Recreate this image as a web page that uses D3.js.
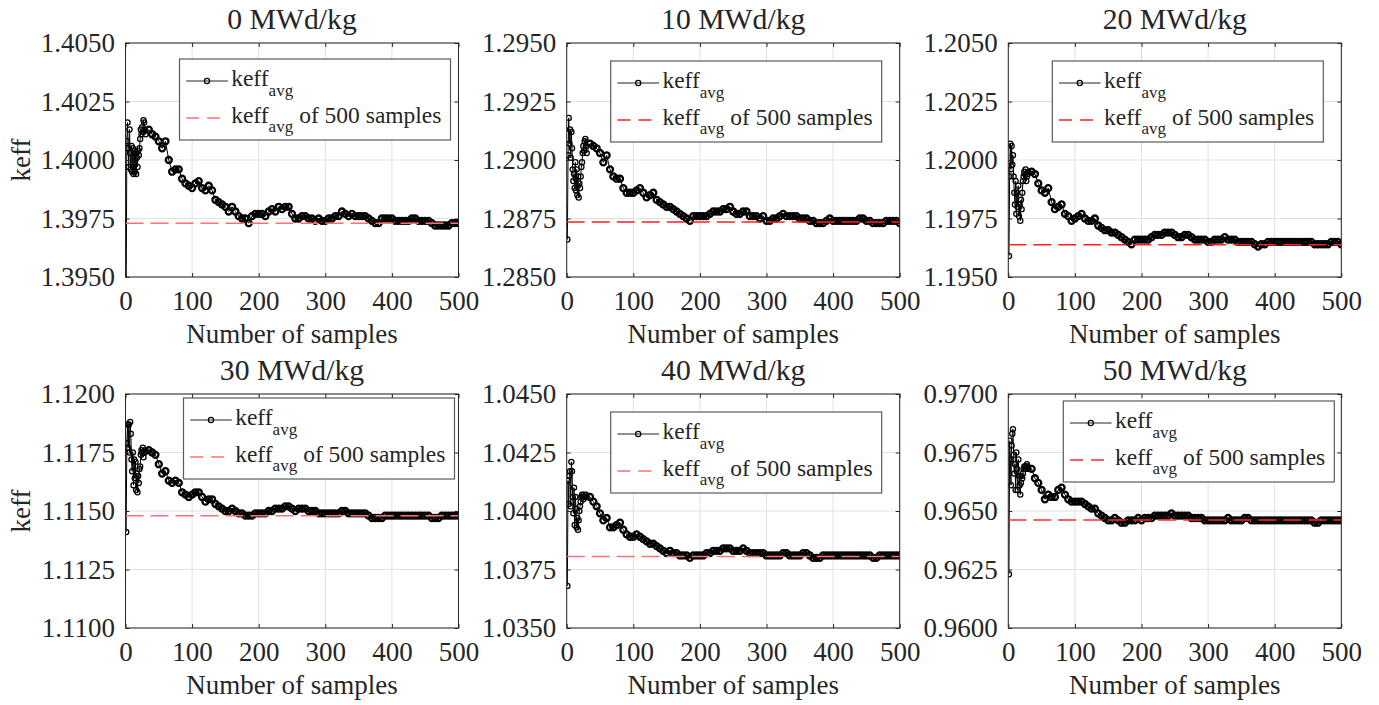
<!DOCTYPE html>
<html>
<head>
<meta charset="utf-8">
<script src="https://cdn.jsdelivr.net/npm/d3@7"></script>
<style>
  body { margin: 0; background: #fff; }
  text { font-family: "Liberation Serif", "Times New Roman", serif; fill: #262626; }
</style>
</head>
<body>
<div id="svg-container"></div>
<script>
// sample numbers where values were read (every sample up to 30, then every 5th)
var samples = [1,2,3,4,5,6,7,8,9,10,
  11,12,13,14,15,16,17,18,19,20,
  21,22,23,24,25,26,27,28,29,30,
  35,40,45,50,55,60,65,70,75,80,
  85,90,95,100,105,110,115,120,125,130,
  135,140,145,150,155,160,165,170,175,180,
  185,190,195,200,205,210,215,220,225,230,
  235,240,245,250,255,260,265,270,275,280,
  285,290,295,300,305,310,315,320,325,330,
  335,340,345,350,355,360,365,370,375,380,
  385,390,395,400,405,410,415,420,425,430,
  435,440,445,450,455,460,465,470,475,480,
  485,490,495,500];

var titles = ["0 MWd/kg", "10 MWd/kg", "20 MWd/kg", "30 MWd/kg", "40 MWd/kg", "50 MWd/kg"];

var xTicks = [0, 100, 200, 300, 400, 500];

var yTicks = [
  [1.3950, 1.3975, 1.4000, 1.4025, 1.4050],
  [1.2850, 1.2875, 1.2900, 1.2925, 1.2950],
  [1.1950, 1.1975, 1.2000, 1.2025, 1.2050],
  [1.1100, 1.1125, 1.1150, 1.1175, 1.1200],
  [1.0350, 1.0375, 1.0400, 1.0425, 1.0450],
  [0.9600, 0.9625, 0.9650, 0.9675, 0.9700]
];

// keff_avg of all 500 samples
var keffAvg500 = [1.3973, 1.28735, 1.19638, 1.1148, 1.03806, 0.96462];

var keff0 = [1.3938, 1.4008, 1.4016, 1.4005, 1.3997, 1.4013, 1.4003, 1.3996, 1.4006, 1.3995,
  1.4005, 1.3994, 1.4004, 1.3995, 1.4003, 1.3994, 1.4001, 1.3997, 1.4004, 1.4002,
  1.4005, 1.4009, 1.4013, 1.4011, 1.4014, 1.4012, 1.4017, 1.4016, 1.4013, 1.4011,
  1.4013, 1.4011, 1.4010, 1.4008, 1.4005, 1.4008, 1.4000, 1.3995, 1.3996, 1.3996,
  1.3992, 1.3990, 1.3989, 1.3988, 1.3990, 1.3991, 1.3988, 1.3987, 1.3989, 1.3987,
  1.3983, 1.3982, 1.3981, 1.3980, 1.3978, 1.3980, 1.3978, 1.3976, 1.3975, 1.3975,
  1.3973, 1.3976, 1.3977, 1.3977, 1.3977, 1.3976, 1.3978, 1.3979, 1.3978, 1.3980,
  1.3979, 1.3980, 1.3980, 1.3977, 1.3975, 1.3975, 1.3976, 1.3976, 1.3975, 1.3975,
  1.3974, 1.3975, 1.3974, 1.3974, 1.3975, 1.3975, 1.3976, 1.3976, 1.3978, 1.3977,
  1.3976, 1.3977, 1.3976, 1.3976, 1.3976, 1.3976, 1.3975, 1.3974, 1.3973, 1.3973,
  1.3975, 1.3975, 1.3975, 1.3975, 1.3974, 1.3974, 1.3974, 1.3974, 1.3974, 1.3975,
  1.3975, 1.3974, 1.3974, 1.3974, 1.3974, 1.3973, 1.3972, 1.3972, 1.3972, 1.3972,
  1.3972, 1.3973, 1.3973, 1.3973];

var keff10 = [1.2866, 1.2902, 1.2918, 1.2907, 1.2913, 1.2901, 1.2912, 1.2905, 1.2896, 1.2891,
  1.2894, 1.2888, 1.2899, 1.2887, 1.2896, 1.2885, 1.2893, 1.2884, 1.2890, 1.2888,
  1.2893, 1.2897, 1.2899, 1.2903, 1.2906, 1.2904, 1.2908, 1.2909, 1.2906, 1.2903,
  1.2907, 1.2906, 1.2905, 1.2903, 1.2899, 1.2902, 1.2896, 1.2893, 1.2892, 1.2892,
  1.2888, 1.2886, 1.2886, 1.2886, 1.2887, 1.2888, 1.2886, 1.2884, 1.2885, 1.2886,
  1.2883, 1.2882, 1.2881, 1.2880, 1.2880, 1.2879, 1.2878, 1.2877, 1.2876, 1.2875,
  1.2874, 1.2876, 1.2876, 1.2876, 1.2876, 1.2876, 1.2877, 1.2878, 1.2878, 1.2878,
  1.2879, 1.2879, 1.2880, 1.2878, 1.2877, 1.2877, 1.2878, 1.2878, 1.2876, 1.2876,
  1.2876, 1.2875, 1.2876, 1.2874, 1.2874, 1.2875, 1.2875, 1.2876, 1.2877, 1.2876,
  1.2876, 1.2876, 1.2876, 1.2875, 1.2875, 1.2875, 1.2874, 1.2874, 1.2873, 1.2873,
  1.2873, 1.2874, 1.2875, 1.2874, 1.2874, 1.2874, 1.2874, 1.2874, 1.2874, 1.2874,
  1.2874, 1.2875, 1.2875, 1.2874, 1.2874, 1.2873, 1.2873, 1.2873, 1.2873, 1.2874,
  1.2874, 1.2874, 1.2874, 1.2873];

var keff20 = [1.1959, 1.1993, 1.2007, 1.1996, 1.2006, 1.1998, 1.2002, 1.1993, 1.1986, 1.1981,
  1.1991, 1.1977, 1.1986, 1.1980, 1.1989, 1.1976, 1.1981, 1.1974, 1.1983, 1.1979,
  1.1986, 1.1991, 1.1993, 1.1995, 1.1994, 1.1996, 1.1991, 1.1993, 1.1994, 1.1995,
  1.1995, 1.1994, 1.1990, 1.1987, 1.1986, 1.1988, 1.1982, 1.1979, 1.1980, 1.1981,
  1.1977, 1.1976, 1.1974, 1.1975, 1.1976, 1.1977, 1.1975, 1.1974, 1.1974, 1.1975,
  1.1972, 1.1971, 1.1970, 1.1970, 1.1969, 1.1969, 1.1968, 1.1967, 1.1966, 1.1965,
  1.1964, 1.1966, 1.1966, 1.1966, 1.1966, 1.1966, 1.1967, 1.1968, 1.1968, 1.1968,
  1.1969, 1.1969, 1.1969, 1.1968, 1.1967, 1.1967, 1.1968, 1.1968, 1.1967, 1.1966,
  1.1966, 1.1966, 1.1966, 1.1965, 1.1965, 1.1966, 1.1966, 1.1966, 1.1967, 1.1966,
  1.1966, 1.1966, 1.1965, 1.1965, 1.1965, 1.1965, 1.1965, 1.1964, 1.1963, 1.1964,
  1.1964, 1.1965, 1.1965, 1.1965, 1.1965, 1.1965, 1.1965, 1.1965, 1.1965, 1.1965,
  1.1965, 1.1965, 1.1965, 1.1965, 1.1965, 1.1964, 1.1964, 1.1964, 1.1964, 1.1964,
  1.1965, 1.1965, 1.1965, 1.1964];

var keff30 = [1.1141, 1.1179, 1.1187, 1.1177, 1.1187, 1.1175, 1.1188, 1.1183, 1.1172, 1.1167,
  1.1175, 1.1161, 1.1172, 1.1164, 1.1171, 1.1159, 1.1166, 1.1158, 1.1165, 1.1162,
  1.1168, 1.1169, 1.1174, 1.1176, 1.1175, 1.1177, 1.1173, 1.1175, 1.1175, 1.1176,
  1.1176, 1.1175, 1.1174, 1.1170, 1.1166, 1.1167, 1.1163, 1.1162, 1.1163, 1.1162,
  1.1158, 1.1157, 1.1156, 1.1157, 1.1158, 1.1158, 1.1156, 1.1154, 1.1155, 1.1155,
  1.1153, 1.1152, 1.1151, 1.1150, 1.1150, 1.1151, 1.1150, 1.1149, 1.1149, 1.1148,
  1.1148, 1.1148, 1.1149, 1.1149, 1.1149, 1.1149, 1.1150, 1.1150, 1.1151, 1.1151,
  1.1151, 1.1152, 1.1152, 1.1151, 1.1150, 1.1151, 1.1151, 1.1151, 1.1150, 1.1150,
  1.1150, 1.1149, 1.1149, 1.1149, 1.1149, 1.1149, 1.1149, 1.1149, 1.1150, 1.1150,
  1.1149, 1.1149, 1.1149, 1.1149, 1.1149, 1.1149, 1.1148, 1.1147, 1.1147, 1.1147,
  1.1147, 1.1148, 1.1148, 1.1148, 1.1148, 1.1148, 1.1148, 1.1148, 1.1148, 1.1148,
  1.1148, 1.1148, 1.1148, 1.1148, 1.1148, 1.1147, 1.1147, 1.1147, 1.1148, 1.1148,
  1.1148, 1.1148, 1.1148, 1.1148];

var keff40 = [1.0368, 1.0413, 1.0403, 1.0415, 1.0417, 1.0402, 1.0421, 1.0417, 1.0406, 1.0399,
  1.0410, 1.0394, 1.0406, 1.0401, 1.0393, 1.0397, 1.0392, 1.0396, 1.0400, 1.0402,
  1.0404, 1.0406, 1.0407, 1.0406, 1.0405, 1.0407, 1.0406, 1.0406, 1.0407, 1.0406,
  1.0406, 1.0404, 1.0402, 1.0399, 1.0396, 1.0397, 1.0393, 1.0393, 1.0394, 1.0395,
  1.0392, 1.0390, 1.0389, 1.0389, 1.0390, 1.0389, 1.0388, 1.0387, 1.0386, 1.0386,
  1.0385, 1.0384, 1.0383, 1.0382, 1.0383, 1.0382, 1.0382, 1.0381, 1.0381, 1.0381,
  1.0380, 1.0381, 1.0381, 1.0381, 1.0381, 1.0382, 1.0382, 1.0383, 1.0383, 1.0383,
  1.0384, 1.0384, 1.0384, 1.0383, 1.0383, 1.0383, 1.0384, 1.0383, 1.0382, 1.0382,
  1.0382, 1.0382, 1.0382, 1.0381, 1.0381, 1.0381, 1.0381, 1.0381, 1.0382, 1.0382,
  1.0381, 1.0381, 1.0381, 1.0381, 1.0382, 1.0382, 1.0381, 1.0380, 1.0380, 1.0380,
  1.0381, 1.0381, 1.0381, 1.0381, 1.0381, 1.0381, 1.0381, 1.0381, 1.0381, 1.0381,
  1.0381, 1.0381, 1.0381, 1.0381, 1.0381, 1.0380, 1.0380, 1.0381, 1.0381, 1.0381,
  1.0381, 1.0381, 1.0381, 1.0381];

var keff50 = [0.9623, 0.9680, 0.9672, 0.9661, 0.9678, 0.9683, 0.9685, 0.9674, 0.9666, 0.9670,
  0.9659, 0.9675, 0.9668, 0.9659, 0.9672, 0.9665, 0.9661, 0.9657, 0.9662, 0.9665,
  0.9664, 0.9666, 0.9668, 0.9669, 0.9668, 0.9669, 0.9669, 0.9670, 0.9669, 0.9668,
  0.9668, 0.9664, 0.9662, 0.9659, 0.9655, 0.9657, 0.9656, 0.9656, 0.9659, 0.9660,
  0.9657, 0.9655, 0.9654, 0.9654, 0.9654, 0.9654, 0.9653, 0.9652, 0.9651, 0.9651,
  0.9649, 0.9648, 0.9647, 0.9646, 0.9646, 0.9647, 0.9646, 0.9645, 0.9645, 0.9646,
  0.9646, 0.9646, 0.9647, 0.9646, 0.9647, 0.9647, 0.9647, 0.9648, 0.9648, 0.9648,
  0.9648, 0.9648, 0.9649, 0.9648, 0.9648, 0.9648, 0.9648, 0.9648, 0.9647, 0.9647,
  0.9647, 0.9647, 0.9646, 0.9646, 0.9646, 0.9646, 0.9646, 0.9646, 0.9646, 0.9647,
  0.9646, 0.9646, 0.9646, 0.9646, 0.9647, 0.9647, 0.9646, 0.9646, 0.9646, 0.9646,
  0.9646, 0.9646, 0.9646, 0.9646, 0.9646, 0.9646, 0.9646, 0.9646, 0.9646, 0.9646,
  0.9646, 0.9646, 0.9646, 0.9646, 0.9646, 0.9645, 0.9645, 0.9646, 0.9646, 0.9646,
  0.9646, 0.9646, 0.9646, 0.9646];

var series = [keff0, keff10, keff20, keff30, keff40, keff50];

// layout of the 6 axes (pixels) and where each legend sits inside its axes
var axW = 333, axH = 234;
var axLeft = [125.5, 566.7, 1008.3];
var axTop = [43, 394];
var legendOffset = [[54, 16], [44, 18], [44, 18], [58, 4], [44, 18], [55, 7]];
var avgColor = ["#ff7070", "#ff2020", "#ff2020", "#ff7070", "#ff7070", "#ff2a2a"];

var width = 1379;
var height = 705;

var svg = d3.select("#svg-container").append("svg")
    .attr("width", width)
    .attr("height", height);

svg.append("rect").attr("width", width).attr("height", height).attr("fill", "#fff");

var fmt = d3.format(".4f");

function drawPanel(p) {
    var x0 = axLeft[p % 3];
    var y0 = axTop[Math.floor(p / 3)];

    var x = d3.scaleLinear().domain([0, 500]).range([x0, x0 + axW]);
    var ticksY = yTicks[p];
    var y = d3.scaleLinear().domain([ticksY[0], ticksY[ticksY.length - 1]]).range([y0 + axH, y0]);

    var g = svg.append("g");

    // grid
    g.selectAll("line.gx").data(xTicks).enter().append("line")
        .attr("x1", function(d) { return x(d); })
        .attr("x2", function(d) { return x(d); })
        .attr("y1", y0).attr("y2", y0 + axH)
        .attr("stroke", "#e1e1e1").attr("stroke-width", 1);
    g.selectAll("line.gy").data(ticksY).enter().append("line")
        .attr("x1", x0).attr("x2", x0 + axW)
        .attr("y1", function(d) { return y(d); })
        .attr("y2", function(d) { return y(d); })
        .attr("stroke", "#e1e1e1").attr("stroke-width", 1);

    var clipId = "clip" + p;
    svg.append("clipPath").attr("id", clipId).append("rect")
        .attr("x", x0).attr("y", y0).attr("width", axW).attr("height", axH);

    var pts = samples.map(function(s, i) { return [s, series[p][i]]; });

    var line = d3.line()
        .x(function(d) { return x(d[0]); })
        .y(function(d) { return y(d[1]); });

    var plot = g.append("g").attr("clip-path", "url(#" + clipId + ")");

    plot.append("path")
        .datum(pts)
        .attr("d", line)
        .attr("fill", "none")
        .attr("stroke", "#000")
        .attr("stroke-width", 1);

    // after sample 30 each marker stands for 5 of the original ones,
    // so these are drawn heavier to give the same dense band
    plot.selectAll("circle")
        .data(pts)
        .enter()
        .append("circle")
        .attr("cx", function(d) { return x(d[0]); })
        .attr("cy", function(d) { return y(d[1]); })
        .attr("r", function(d) { return d[0] > 30 ? 3 : 2.6; })
        .attr("fill", "none")
        .attr("stroke", "#000")
        .attr("stroke-width", function(d) { return d[0] > 30 ? 2.3 : 1.25; });

    // average of 500 samples
    plot.append("line")
        .attr("x1", x(0)).attr("x2", x(500))
        .attr("y1", y(keffAvg500[p])).attr("y2", y(keffAvg500[p]))
        .attr("stroke", avgColor[p])
        .attr("stroke-width", 1.5)
        .attr("stroke-dasharray", "18,7");

    // axes, ticks pointing inward on all four sides
    var xb = g.append("g").attr("transform", "translate(0," + (y0 + axH) + ")")
        .call(d3.axisBottom(x).tickValues(xTicks).tickSizeInner(-4).tickSizeOuter(0).tickPadding(14));
    var xt = g.append("g").attr("transform", "translate(0," + y0 + ")")
        .call(d3.axisTop(x).tickValues(xTicks).tickSizeInner(-4).tickSizeOuter(0).tickFormat(""));
    var yl = g.append("g").attr("transform", "translate(" + x0 + ",0)")
        .call(d3.axisLeft(y).tickValues(ticksY).tickSizeInner(-4).tickSizeOuter(0).tickPadding(10.5).tickFormat(fmt));
    var yr = g.append("g").attr("transform", "translate(" + (x0 + axW) + ",0)")
        .call(d3.axisRight(y).tickValues(ticksY).tickSizeInner(-4).tickSizeOuter(0).tickFormat(""));

    [xb, xt, yl, yr].forEach(function(a) {
        a.attr("font-family", null);
        a.select(".domain").remove();
        a.selectAll(".tick line").attr("stroke", "#262626");
        a.selectAll("text")
            .attr("font-size", "27px")
            .attr("fill", "#262626");
    });

    g.append("rect")
        .attr("x", x0).attr("y", y0)
        .attr("width", axW).attr("height", axH)
        .attr("fill", "none")
        .attr("stroke", "#262626")
        .attr("stroke-width", 1);

    // title and labels
    g.append("text")
        .attr("x", x0 + axW / 2)
        .attr("y", y0 - 14)
        .attr("text-anchor", "middle")
        .attr("font-size", "29.7px")
        .text(titles[p]);

    g.append("text")
        .attr("x", x0 + axW / 2)
        .attr("y", y0 + axH + 66)
        .attr("text-anchor", "middle")
        .attr("font-size", "27px")
        .text("Number of samples");

    if (p % 3 == 0) {
        g.append("text")
            .attr("transform", "translate(30," + (y0 + axH / 2) + ") rotate(-90)")
            .attr("text-anchor", "middle")
            .attr("font-size", "27px")
            .text("keff");
    }

    // legend
    var lx = x0 + legendOffset[p][0];
    var ly = y0 + legendOffset[p][1];
    var lg = g.append("g");
    lg.append("rect")
        .attr("x", lx).attr("y", ly)
        .attr("width", 271).attr("height", 81)
        .attr("fill", "#fff")
        .attr("stroke", "#5a5a5a")
        .attr("stroke-width", 1.2);

    lg.append("line")
        .attr("x1", lx + 6.7).attr("x2", lx + 48.3)
        .attr("y1", ly + 22).attr("y2", ly + 22)
        .attr("stroke", "#222").attr("stroke-width", 1);
    lg.append("circle")
        .attr("cx", lx + 27.5).attr("cy", ly + 22).attr("r", 2.6)
        .attr("fill", "none").attr("stroke", "#000").attr("stroke-width", 1.2);

    lg.append("line")
        .attr("x1", lx + 6.7).attr("x2", lx + 48.3)
        .attr("y1", ly + 59).attr("y2", ly + 59)
        .attr("stroke", avgColor[p]).attr("stroke-width", 1.5)
        .attr("stroke-dasharray", "13,8");

    var t1 = lg.append("text")
        .attr("x", lx + 51.7).attr("y", ly + 27)
        .attr("font-size", "23.5px");
    t1.append("tspan").text("keff");
    t1.append("tspan").attr("dy", 9.5).attr("font-size", "17px").text("avg");

    var t2 = lg.append("text")
        .attr("x", lx + 51.7).attr("y", ly + 63.7)
        .attr("font-size", "23.5px");
    t2.append("tspan").text("keff");
    t2.append("tspan").attr("dy", 9.5).attr("font-size", "17px").text("avg");
    t2.append("tspan").attr("dy", -9.5).attr("dx", 6).text("of 500 samples");
}

for (var p = 0; p < 6; p++) {
    drawPanel(p);
}
</script>
</body>
</html>
